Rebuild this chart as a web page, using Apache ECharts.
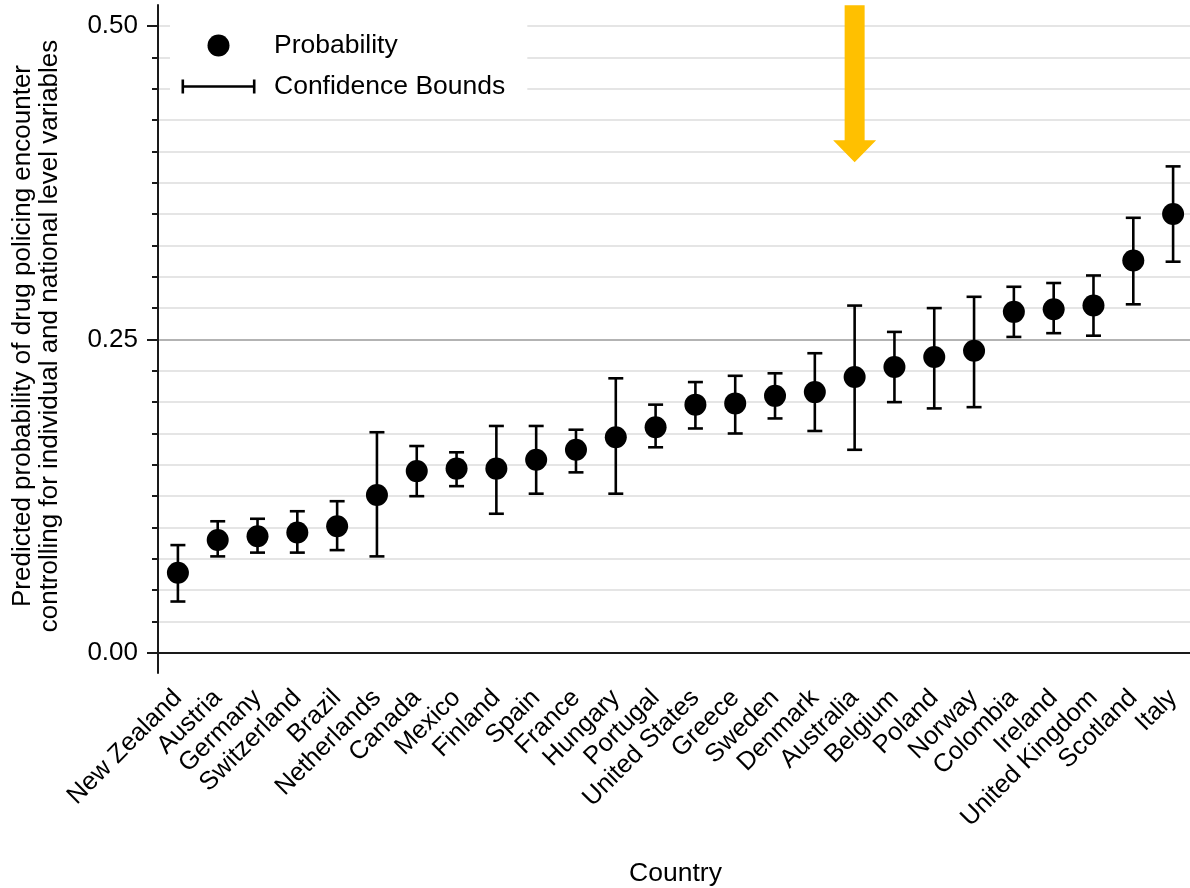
<!DOCTYPE html>
<html><head><meta charset="utf-8">
<script src="https://cdn.jsdelivr.net/npm/echarts@6/dist/echarts.min.js"></script>
<style>html,body{margin:0;padding:0;background:#fff}#c{width:1190px;height:888px}</style>
</head><body><div id="c"></div>
<script>
const countries = ['New Zealand','Austria','Germany','Switzerland','Brazil','Netherlands','Canada','Mexico','Finland','Spain','France','Hungary','Portugal','United States','Greece','Sweden','Denmark','Australia','Belgium','Poland','Norway','Colombia','Ireland','United Kingdom','Scotland','Italy'];
const probability = [0.064,0.090,0.093,0.096,0.101,0.126,0.145,0.147,0.147,0.154,0.162,0.172,0.180,0.198,0.199,0.205,0.208,0.220,0.228,0.236,0.241,0.272,0.274,0.277,0.313,0.350];
const lowerBound  = [0.041,0.077,0.080,0.080,0.082,0.077,0.125,0.133,0.111,0.127,0.144,0.127,0.164,0.179,0.175,0.187,0.177,0.162,0.200,0.195,0.196,0.252,0.255,0.253,0.278,0.312];
const upperBound  = [0.086,0.105,0.107,0.113,0.121,0.176,0.165,0.160,0.181,0.181,0.178,0.219,0.198,0.216,0.221,0.223,0.239,0.277,0.256,0.275,0.284,0.292,0.295,0.301,0.347,0.388];
const gridValues = [0,0.025,0.05,0.075,0.1,0.125,0.15,0.175,0.2,0.225,0.25,0.275,0.3,0.325,0.35,0.375,0.4,0.425,0.45,0.475,0.5];
const majorTicks = [0,0.25,0.5];
const darkGridValue = 0.25;
const highlight = {country:'Australia', value:0.454};

const FONT = '"Liberation Sans", Arial, sans-serif';
const axisColor = '#1a1a1a';
const ciIcon = 'path://M0,0L0.01,0L0.01,0.01Z M0,22L0.01,22L0.01,21.99Z M0,4L2.6,4L2.6,9.7L71.4,9.7L71.4,4L74,4L74,18L71.4,18L71.4,12.3L2.6,12.3L2.6,18L0,18Z';
const arrowPath = 'path://M11.5,0L31.5,0L31.5,135L43,135L21.5,157L0,135L11.5,135Z';

const chart = echarts.init(document.getElementById('c'), null, {renderer:'canvas'});
chart.setOption({
  animation:false,
  backgroundColor:'#fff',
  textStyle:{fontFamily:FONT},
  grid:{left:158, right:-3, top:5, bottom:215, containLabel:false, outerBoundsMode:'none'},
  legend:{
    left:170, top:19, orient:'vertical', itemWidth:75, itemHeight:22, itemGap:14, z:10,
    padding:[13,22,10,11.5], backgroundColor:'#fff', selectedMode:false,
    textStyle:{fontSize:26.5, color:'#000', fontFamily:FONT, padding:[0,0,0,13]},
    data:[{name:'Probability', icon:'circle'},{name:'Confidence Bounds', icon:ciIcon}]
  },
  xAxis:{
    type:'category', data:countries, boundaryGap:true,
    name:'Country', nameLocation:'middle', nameGap:187,
    nameTextStyle:{fontSize:26.5, color:'#000', fontFamily:FONT},
    axisLine:{lineStyle:{color:axisColor, width:2}},
    axisTick:{alignWithLabel:true, length:12, lineStyle:{color:axisColor, width:2}},
    axisLabel:{interval:0, rotate:45, fontSize:25.5, color:'#000', margin:21, fontFamily:FONT},
    splitLine:{show:false}
  },
  yAxis:[{
    type:'value', min:-0.016, max:0.5167, position:'left',
    name:'Predicted probability of drug policing encounter\ncontrolling for individual and national level variables',
    nameLocation:'middle', nameGap:95,
    nameTextStyle:{fontSize:26, lineHeight:27, color:'#000', fontFamily:FONT, align:'center', padding:[0,0,0,6]},
    axisLine:{show:true, lineStyle:{color:axisColor, width:2}},
    axisTick:{show:true, length:6, customValues:gridValues, lineStyle:{color:axisColor, width:2}},
    axisLabel:{show:false},
    splitLine:{show:false}
  },{
    type:'value', min:-0.016, max:0.5167, position:'left',
    axisLine:{show:false},
    axisTick:{show:true, length:11, customValues:majorTicks, lineStyle:{color:axisColor, width:2}},
    axisLabel:{show:true, customValues:majorTicks, fontSize:26, color:'#000', margin:20, fontFamily:FONT,
      formatter:function(v){return v.toFixed(2);}},
    splitLine:{show:false}
  }],
  series:[
    {
      type:'line', data:[], silent:true, z:0, yAxisIndex:0,
      markLine:{
        silent:true, symbol:'none', label:{show:false}, animation:false, precision:5, z:0,
        data: gridValues.map(v=>({yAxis:v, lineStyle:{color: v===darkGridValue ? '#9a9a9a' : '#dcdcdc', width:1.5, type:'solid'}}))
      }
    },
    {
      name:'Confidence Bounds', type:'custom', yAxisIndex:0, z:2,
      itemStyle:{color:'#000'},
      data: countries.map((c,i)=>[i, lowerBound[i], upperBound[i]]),
      encode:{x:0, y:[1,2]},
      renderItem:function(params, api){
        const x = api.value(0);
        const pLo = api.coord([x, api.value(1)]);
        const pHi = api.coord([x, api.value(2)]);
        const hw = 7.5;
        const style = {stroke:'#000', lineWidth:2.6, fill:null};
        return {type:'group', children:[
          {type:'line', shape:{x1:pLo[0], y1:pLo[1], x2:pHi[0], y2:pHi[1]}, style:style},
          {type:'line', shape:{x1:pLo[0]-hw, y1:pLo[1], x2:pLo[0]+hw, y2:pLo[1]}, style:style},
          {type:'line', shape:{x1:pHi[0]-hw, y1:pHi[1], x2:pHi[0]+hw, y2:pHi[1]}, style:style}
        ]};
      }
    },
    {
      name:'Probability', type:'scatter', yAxisIndex:0, z:3,
      symbol:'circle', symbolSize:22, itemStyle:{color:'#000', opacity:1},
      data: probability,
      markPoint:{
        silent:true, animation:false,
        data:[{coord:[highlight.country, highlight.value], symbol:arrowPath, symbolSize:[43,157],
          itemStyle:{color:'#FFC000', opacity:1}, label:{show:false}}]
      }
    }
  ]
});
</script></body></html>
